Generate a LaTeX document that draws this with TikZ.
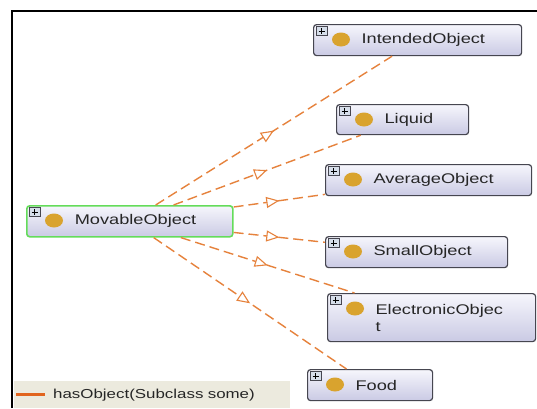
\documentclass[tikz,border=0pt]{standalone}
\usepackage{fontspec}
\setmainfont[FakeStretch=1.3]{Liberation Sans}
\usetikzlibrary{arrows.meta,decorations.markings}

\definecolor{edgeorange}{RGB}{230,130,60}
\definecolor{keyorange}{RGB}{225,100,30}
\definecolor{keybg}{RGB}{236,234,222}
\definecolor{boxtop}{RGB}{246,246,252}
\definecolor{boxbottom}{RGB}{202,202,228}
\definecolor{boxline}{RGB}{70,70,80}
\definecolor{selgreen}{RGB}{100,220,90}
\definecolor{dotgold}{RGB}{217,163,46}
\definecolor{plusbg}{RGB}{214,222,234}

\tikzset{
  cls/.style={draw=boxline, line width=1.2pt, rounded corners=3pt,
    top color=boxtop, bottom color=boxbottom, anchor=north west,
    text width=#1, inner xsep=0pt, inner ysep=2pt, minimum height=31pt,
    align=left, text=black!85, font=\fontsize{14}{17}\selectfont},
  rel/.style={draw=edgeorange, line width=1.4pt, dash pattern=on 10pt off 5pt,
    postaction={decorate},
    decoration={markings, mark=at position 0.5 with
      {\arrow{Triangle[length=13pt,width=11pt,fill=white,line width=1.1pt]}}}}
}

\begin{document}
\begin{tikzpicture}[x=1pt,y=-1pt]
    \useasboundingbox (0,0) rectangle (537,408);
    \fill[white] (0,0) rectangle (537,408);
    \draw[line width=2pt] (12,408) -- (12,11) -- (537,11);

    \node[cls=206pt, draw=selgreen, line width=1.6pt] (movable) at (26,205) {\hspace*{48pt}MovableObject};
    \node[cls=208pt] (intended) at (313,24) {\hspace*{48pt}IntendedObject};
    \node[cls=132pt, minimum height=30pt] (liquid) at (336,104) {\hspace*{48pt}Liquid};
    \node[cls=206pt] (average) at (325,164) {\hspace*{48pt}AverageObject};
    \node[cls=182pt] (small) at (325,236) {\hspace*{48pt}SmallObject};
    \node[cls=208pt, minimum height=48pt] (electronic) at (327,293) {\hspace*{48pt}ElectronicObjec\\\hspace*{48pt}t};
    \node[cls=125pt] (food) at (307,369) {\hspace*{48pt}Food};

    % expand box and class dot
    \foreach \n in {movable,intended,liquid,average,small,electronic,food} {
        \draw[fill=plusbg, draw=boxline, line width=0.6pt] ([shift={(3,2.5)}]\n.north west) rectangle +(11,9);
        \draw[line width=0.9pt] ([shift={(5.5,7)}]\n.north west) -- +(6,0);
        \draw[line width=0.9pt] ([shift={(8.5,4)}]\n.north west) -- +(0,6);
        \fill[dotgold] ([shift={(28,15.5)}]\n.north west) ellipse [x radius=9pt, y radius=7pt];
    }

    \draw[rel] (movable) -- (intended);
    \draw[rel] (movable) -- (liquid);
    \draw[rel] (movable) -- (average);
    \draw[rel] (movable) -- (small);
    \draw[rel] (movable) -- (electronic);
    \draw[rel] (movable) -- (food);

    % legend
    \node[fill=keybg, anchor=north west, minimum width=276pt, minimum height=27pt,
          text width=276pt, inner xsep=0pt, align=left, text=black!85,
          font=\fontsize{13}{15}\selectfont] (key) at (14,381) {\hspace*{39pt}hasObject(Subclass some)};
    \draw[keyorange, line width=3pt] ([xshift=2pt]key.west) -- ([xshift=31pt]key.west);
\end{tikzpicture}
\end{document}
